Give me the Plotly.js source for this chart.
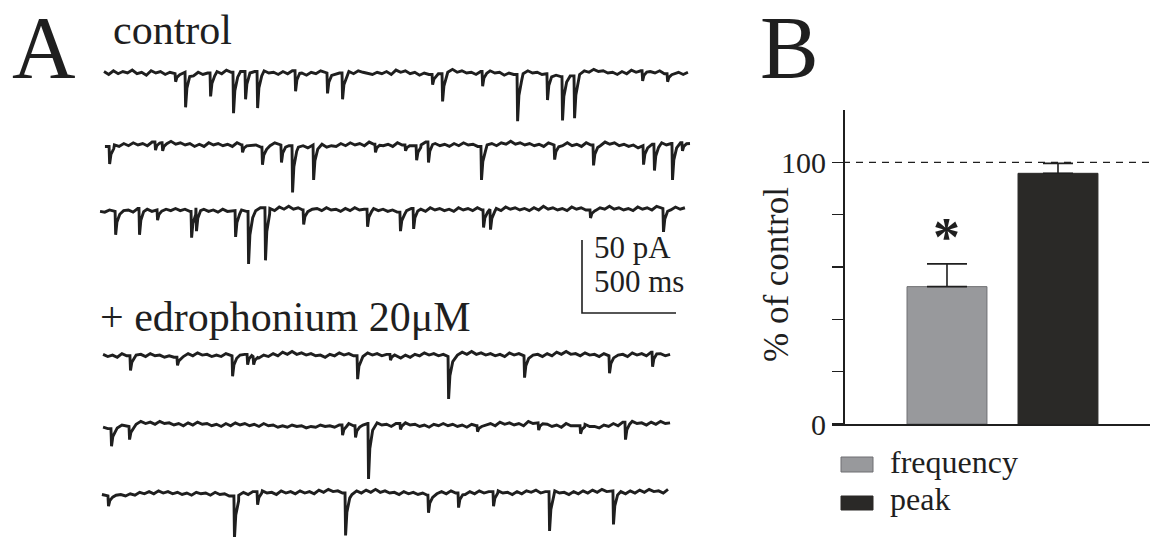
<!DOCTYPE html>
<html><head><meta charset="utf-8">
<script src="https://cdn.plot.ly/plotly-3.0.1.min.js"></script>
<style>html,body{margin:0;padding:0;background:#fff}#chart{width:1154px;height:537px}</style>
</head><body><div id="chart"></div>
<script>
// ================= DATA =================
const panelLabels = ['A', 'B'];
const conditionLabels = ['control', '+ edrophonium 20μM'];

// Panel A: six current traces (3 control, 3 edrophonium). Time in ms, current in pA.
const traceStartMs = [0, 5, -21, -5, -5, -11];
const traceEndMs   = [3106, 3117, 3090, 3011, 3011, 3000];

// baseline samples (pA), evenly spaced between start and end
const baseC1 = [1.5,-0.5,2,0,1.5,0.5,2.5,0,1,-1, 2,0.5,1.5,-0.5,1,0,2,1,0.5,-1.5, 1,-0.5,0.5,-1,1.5,0,2.5,1,3,1.5,
  2,0.5,1.5,0,2,0.5,1,-0.5,1.5,0, 2,1,0.5,-1,1,0,2,0.5,1.5,-0.5, 0.5,-1,1.5,0,2,1,0.5,-0.5,1,0,
  1.5,-0.5,2.5,1,2,0,1,-1,0.5,-0.5, 1.5,0,2,1,3,1,2,0.5,1,-0.5, 1.5,0,2,0.5,1,-1,0.5,-0.5,1.5,0,
  2,0.5,1,-0.5,0,-1.5,-1,-2,-0.5,-1.5, 0.5,-0.5,2,1,3,1.5,2,0.5,1,-0.5, 1.5,0,2.5,1,2,0,1.5,0.5,2,0,
  1.5,0,1,-0.5,1];
const baseC2 = [-0.5,-1.5,0.5,-0.5,1.5,0,2,0.5,1.5,0, 2.5,1,2,0.5,3,1,2,0.5,1.5,-0.5, 1,-0.5,2,0.5,1.5,0,1,-0.5,2,0.5,
  1.5,0,0.5,-1,1,0,2,0.5,1.5,0, 0.5,-1,0,-1.5,0.5,-0.5,1,-1,0,-0.5, 1.5,0,2,0.5,1.5,0,2.5,1,1.5,0,
  1,-0.5,2,0.5,1.5,0,2,0.5,2.5,1, 1.5,0,1,-0.5,1.5,0,2,0.5,1,-0.5, 2,0.5,1.5,0,2,1,3,1,2,0.5,
  1.5,0,1,-0.5,2,0.5,1.5,0,2,0, 1,-0.5,2,0.5,1,0,2.5,1,2,0, 1,-0.5,0.5,-1.5,0,-0.5,1,0,2,0.5,
  1.5,0,2,0.5,1.5];
const baseC3 = [-0.5,-1,0.5,-0.5,1,0,0.5,-1,1.5,0, 1,-0.5,0.5,-1,1,0,1.5,0,1,-0.5, 2,0.5,1,-0.5,0.5,-1,1,-0.5,0,-1.5,
  0.5,-0.5,1.5,0,2,0.5,1.5,0,2.5,1, 3,1,2,0.5,2.5,1,1.5,0,2,0.5, 1,-0.5,1.5,0,2,0.5,1,-0.5,1.5,0,
  1,-0.5,0.5,-1,1,0,1.5,0,1,-0.5, 2,0.5,1.5,0,1,-0.5,2,0.5,1.5,0, 2,0.5,1,-0.5,1.5,0,2.5,1,2,0.5,
  1.5,0,2,0.5,3,1,2,0.5,1.5,0, 2.5,1,2,0.5,1.5,0,2,1,3,1, 2,0.5,1.5,0,2.5,1,2,0.5,3,1.5,
  2,0.5,2.5,1,2];
const baseE1 = [1,-0.5,0.5,-1,1.5,0,2,0.5,1,-0.5, 1.5,0,0.5,-1,0,-1,1,-0.5,1.5,0, 2,0.5,1,-0.5,0.5,-0.5,1.5,0,2,0.5,
  1,-0.5,0,-1.5,0.5,-0.5,1.5,0,2.5,1, 3,1,2,0.5,1.5,0,0.5,-1,1,0, 2,0.5,1.5,0,1,-0.5,2,0.5,1.5,0,
  1,-0.5,0,-1.5,0.5,-1,1,0,2,0.5, 1.5,0,1,-0.5,2,0.5,2.5,1,3,1, 2,0.5,1.5,0,1,-0.5,2,0.5,1.5,0,
  2,0.5,1,-0.5,1.5,0,2.5,1,3,1, 1.5,0,2,0.5,1,-0.5,1.5,0,2,0.5, 1,-0.5,2,0.5,1.5,0,2.5,1,1.5,0,
  1];
const baseE2 = [-1,-2,-0.5,-1.5,0.5,-0.5,2,1,3,1.5, 2.5,1,3,1.5,2,0.5,1.5,0,2,0.5, 2.5,1,1.5,0,1,-0.5,1.5,0,2,0.5,
  1.5,0,1,-0.5,1.5,0,0.5,-1,0,-1, 0.5,-0.5,0,-1.5,-0.5,-1,0.5,-0.5,0,-1, 0.5,-0.5,1.5,0,2,0.5,1.5,0,2,0.5,
  1,-0.5,1.5,0,2,0.5,1,-0.5,0.5,-1, 1,0,1.5,0,1,-0.5,0.5,-1,1,0, 2,0.5,1.5,0,2.5,1,2,0.5,1.5,0,
  3,1.5,2,0.5,1,-0.5,0.5,-1,1.5,0, 0,-1,1,-0.5,-0.5,-1.5,0.5,-0.5,1.5,0, 2.5,1,3,1.5,2,0.5,2.5,1,3,1.5,
  2];
const baseE3 = [-0.5,-1.5,0,-1,-0.5,-1.5,0,-1,1,0, 1.5,0,2,0.5,1.5,0,1,-0.5,0.5,-1, 1,0,0.5,-1,1,-0.5,0,-1.5,-0.5,-1,
  1,-0.5,1.5,0,2,0.5,1,-0.5,2,0.5, 1.5,0,2,0.5,1.5,0,2.5,1,3,1.5, 2,0.5,1,-0.5,2,0.5,2.5,1,3,1,
  2,0.5,1,-0.5,1.5,0,1,-0.5,0.5,-1, 1,0,1.5,0,2,0.5,1,-0.5,1.5,0, 2,0.5,1.5,0,2,0.5,1,-0.5,1.5,0,
  2,1,2.5,0.5,1.5,0,2,0.5,1,-0.5, 1.5,0,2,0.5,2.5,1,3,1.5,2,0.5, 1.5,0,2,0.5,2.5,1,3,1.5,2,0.5,
  3];

// synaptic events: onset time (ms) and amplitude (pA, inward)
const evC1Ms = [378,431,564,686,750,814,1016,1186,1266,1745,1798,2011,2197,2356,2436,2500,2862,2995];
const evC1pA = [5.5,24,16,28,19,25,14,14,18,7,19,10,32,18,30,29,7,5.5];
const evC2Ms = [27,271,309,734,840,941,1000,1112,1441,1601,1660,1723,2005,2394,2601,2867,2925,3021,3074];
const evC2pA = [12,5.5,5.5,5,12,12,32,24,5.5,4,10,14,23,10,14,13,18,25,5.5];
const evC3Ms = [59,186,282,463,489,697,766,856,1059,1399,1574,1644,2016,2053,2585,2973];
const evC3pA = [16,18,7,18,16,18,36,36,10,12,13,14,12,14,5.5,16];
const evE1Ms = [138,388,681,761,793,1346,1521,1830,2234,2686,2915];
const evE1pA = [10,5.5,14,7,5.5,16,4,29,15,12,10];
const evE2Ms = [37,133,1266,1335,1404,1574,1984,2309,2532,2771];
const evE2pA = [12,9,7,8,38,4,4,5,5.5,12];
const evE3Ms = [21,691,814,1282,1723,1883,2069,2367,2707];
const evE3pA = [7,29,9,29,12,10,10,27,23];

const scaleBarPA = 50;
const scaleBarMs = 500;
const scaleBarLabels = ['50 pA', '500 ms'];

// Panel B: % of control
const barCategories = ['frequency', 'peak'];
const barValues = [52.5, 95.8];
const barErrors = [8.7, 3.8];
const controlLevel = 100;
const yTickVals = [0, 20, 40, 60, 80, 100];
const yTickText = ['0', '', '', '', '', '100'];
const yAxisTitle = '% of control';
const significanceMark = '*';

// ================= LAYOUT CONSTANTS =================
const W = 1154, H = 537;
const px = x => x / W;
const py = y => 1 - y / H;
const MS_PER_PX = 500 / 94;
const PA_PER_PX = 50 / 73;
const traceOffsetPA = [-50.5, -99.8, -144.3, -243.7, -291.6, -338.2];
const EVENT_T = [0, 3, 10, 25];
const EVENT_F = [0, 1, 0.45, 0.12];
const FONT = 'Liberation Serif, Times New Roman, serif';
const INK = '#1f1f1f';

function buildTrace(start, end, base, evT, evA, off) {
  const n = base.length, step = (end - start) / (n - 1);
  let pts = [];
  for (let i = 0; i < n; i++) pts.push([start + i * step, base[i]]);
  for (let k = 0; k < evT.length; k++) {
    const t0 = evT[k];
    pts = pts.filter(p => !(p[0] > t0 && p[0] <= t0 + EVENT_T[EVENT_T.length - 1]));
    const idx = Math.max(0, Math.min(n - 1, Math.floor((t0 - start) / step)));
    const b = base[idx];
    for (let j = 0; j < EVENT_T.length; j++) pts.push([t0 + EVENT_T[j], b - evA[k] * EVENT_F[j]]);
  }
  pts.sort((a, b) => a[0] - b[0]);
  return { x: pts.map(p => p[0]), y: pts.map(p => p[1] + off) };
}

const bases = [baseC1, baseC2, baseC3, baseE1, baseE2, baseE3];
const evTs = [evC1Ms, evC2Ms, evC3Ms, evE1Ms, evE2Ms, evE3Ms];
const evAs = [evC1pA, evC2pA, evC3pA, evE1pA, evE2pA, evE3pA];

const data = [];
for (let i = 0; i < 6; i++) {
  const tr = buildTrace(traceStartMs[i], traceEndMs[i], bases[i], evTs[i], evAs[i], traceOffsetPA[i]);
  data.push({ type: 'scatter', mode: 'lines', x: tr.x, y: tr.y, xaxis: 'x', yaxis: 'y',
    line: { color: INK, width: 2.9 }, hoverinfo: 'skip', showlegend: false });
}

// scale bar
const sbX = (582 - 104) * MS_PER_PX;
const sbYTop = -240 * PA_PER_PX;
data.push({ type: 'scatter', mode: 'lines', xaxis: 'x', yaxis: 'y',
  x: [sbX, sbX, sbX + scaleBarMs], y: [sbYTop, sbYTop - scaleBarPA, sbYTop - scaleBarPA],
  line: { color: INK, width: 1.6 }, hoverinfo: 'skip', showlegend: false });

// bars
const barFill = ['#98999c', '#2a2927'];
const barLine = ['#6e6f72', '#2a2927'];
const capHalf = [20, 15];
for (let i = 0; i < 2; i++) {
  data.push({ type: 'bar', x: [barCategories[i]], y: [barValues[i]], xaxis: 'x2', yaxis: 'y2',
    width: 0.72, name: barCategories[i], showlegend: false, hoverinfo: 'skip',
    marker: { color: barFill[i], line: { color: barLine[i], width: 1 } },
    error_y: { type: 'data', symmetric: false, array: [barErrors[i]], arrayminus: [0],
      width: capHalf[i], thickness: 1.6, color: INK } });
}

const annotations = [
  { text: panelLabels[0], x: px(10), y: py(47), xanchor: 'left', yanchor: 'middle', height: 86, valign: 'middle', font: { size: 88 } },
  { text: panelLabels[1], x: px(758), y: py(47), xanchor: 'left', yanchor: 'middle', height: 86, valign: 'middle', font: { size: 88 } },
  { text: conditionLabels[0], x: px(111), y: py(30), xanchor: 'left', yanchor: 'middle', font: { size: 42 } },
  { text: conditionLabels[1], x: px(98), y: py(317), xanchor: 'left', yanchor: 'middle', font: { size: 42 } },
  { text: scaleBarLabels[0], x: px(592), y: py(248), xanchor: 'left', yanchor: 'middle', font: { size: 31 } },
  { text: scaleBarLabels[1], x: px(592), y: py(281), xanchor: 'left', yanchor: 'middle', font: { size: 31 } },
  { text: yAxisTitle, x: px(776), y: py(275), textangle: -90, xanchor: 'center', yanchor: 'middle', font: { size: 35 } },
  { text: '<b>' + significanceMark + '</b>', xref: 'x2', yref: 'y2', x: barCategories[0], y: 71.3,
    xanchor: 'center', yanchor: 'middle', font: { size: 54 } },
  { text: barCategories[0], x: px(888), y: py(462), xanchor: 'left', yanchor: 'middle', font: { size: 32 } },
  { text: barCategories[1], x: px(888), y: py(499), xanchor: 'left', yanchor: 'middle', font: { size: 32 } }
].map(a => Object.assign({ xref: 'paper', yref: 'paper', showarrow: false }, a,
  { font: Object.assign({ family: FONT, color: INK }, a.font) }));

const shapes = [
  { type: 'line', xref: 'paper', yref: 'y2', x0: px(843), x1: 1, y0: controlLevel, y1: controlLevel,
    line: { color: INK, width: 1.3, dash: '7px,6px' } },
  { type: 'rect', xref: 'paper', yref: 'paper', x0: px(841), x1: px(873), y0: py(457), y1: py(472),
    fillcolor: barFill[0], line: { color: barLine[0], width: 1 } },
  { type: 'rect', xref: 'paper', yref: 'paper', x0: px(841), x1: px(873), y0: py(496), y1: py(510),
    fillcolor: barFill[1], line: { color: barLine[1], width: 1 } }
];

const layout = {
  width: W, height: H, margin: { l: 0, r: 0, t: 0, b: 0 },
  paper_bgcolor: '#fff', plot_bgcolor: 'rgba(0,0,0,0)', showlegend: false,
  font: { family: FONT, color: INK },
  xaxis: { domain: [0, px(720)], range: [-104 * MS_PER_PX, (720 - 104) * MS_PER_PX], visible: false, fixedrange: true },
  yaxis: { domain: [0, 1], range: [-H * PA_PER_PX, 0], visible: false, fixedrange: true },
  xaxis2: { domain: [px(832), px(1150)], anchor: 'y2', type: 'category', categoryarray: barCategories,
    range: [-1.036, 1.829], showline: true, linecolor: INK, linewidth: 1.6, ticks: '',
    showticklabels: false, showgrid: false, zeroline: false, fixedrange: true },
  yaxis2: { domain: [py(424), py(110)], anchor: 'free', position: px(843), range: [0, 120],
    showline: true, linecolor: INK, linewidth: 1.6, ticks: 'outside', ticklen: 11, tickwidth: 1.4,
    tickcolor: INK, tickvals: yTickVals, ticktext: yTickText,
    tickfont: { family: FONT, size: 30, color: INK }, showgrid: false, zeroline: false, fixedrange: true },
  bargap: 0, annotations, shapes
};

Plotly.newPlot('chart', data, layout, { staticPlot: true, displayModeBar: false });
</script></body></html>
